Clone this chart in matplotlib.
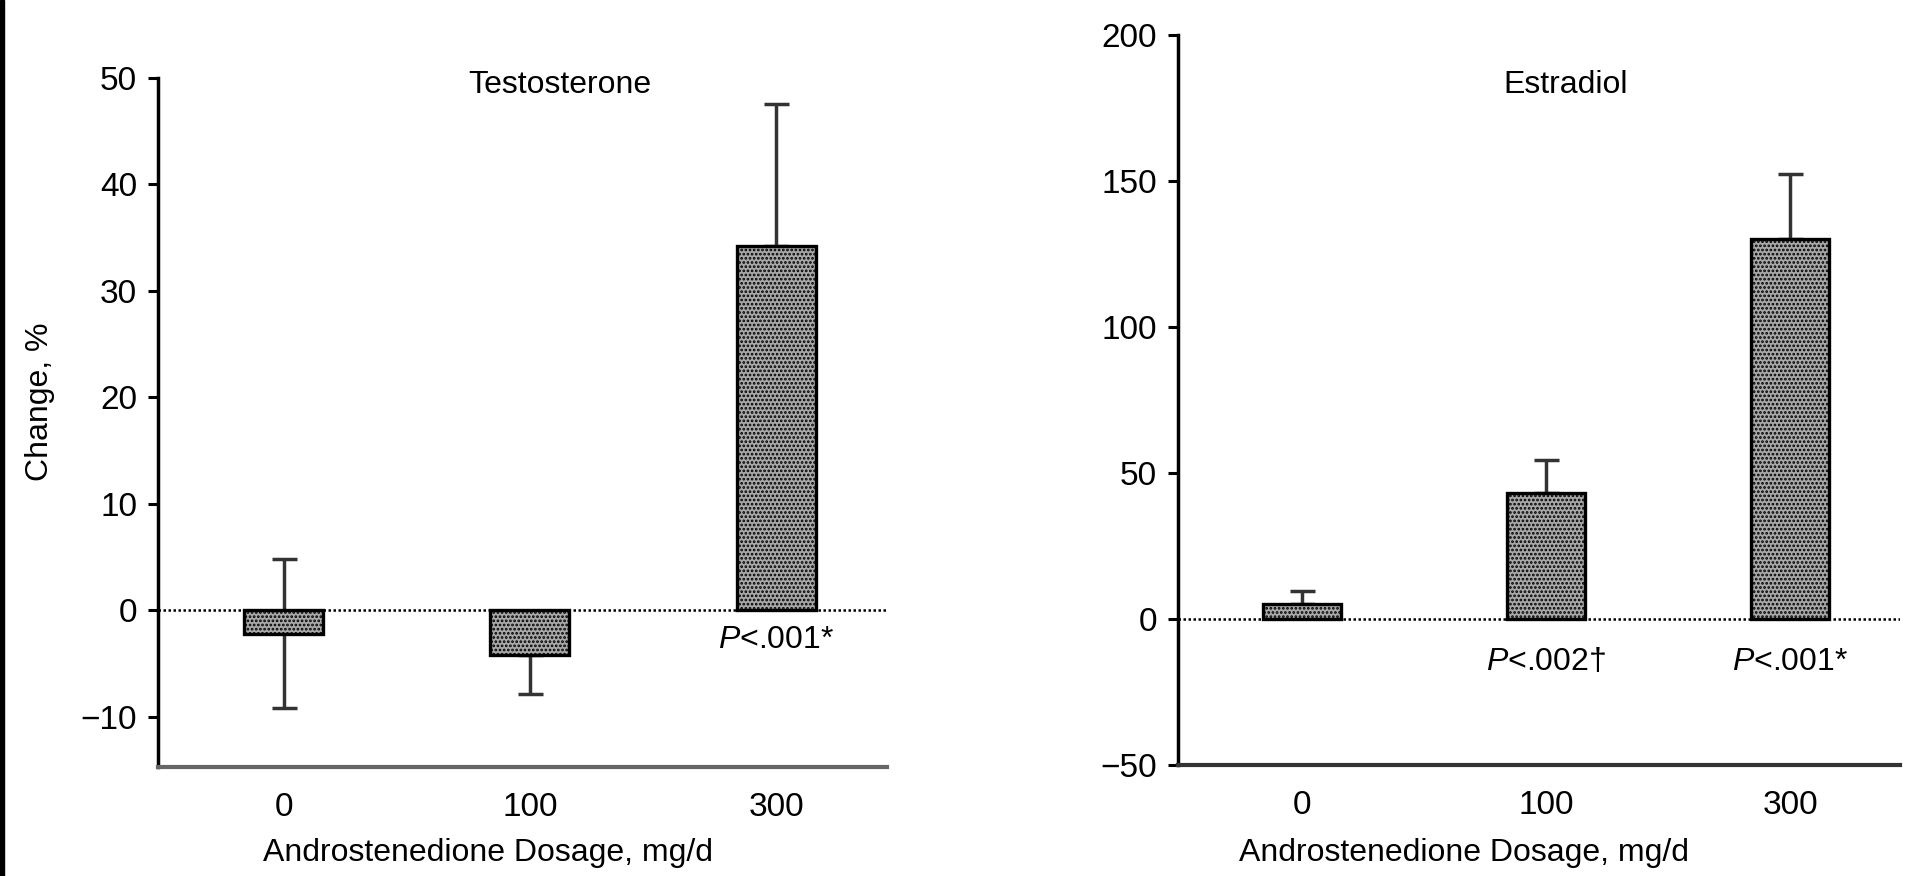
import matplotlib.pyplot as plt
from matplotlib.patches import Rectangle

plt.rcParams['font.family'] = ['Liberation Sans', 'DejaVu Sans']
plt.rcParams['mathtext.fontset'] = 'custom'
plt.rcParams['mathtext.it'] = 'Liberation Sans:italic'
plt.rcParams['mathtext.rm'] = 'Liberation Sans'
plt.rcParams['hatch.linewidth'] = 1.3

# dosage groups (mg/d)
doses = ["0", "100", "300"]

# testosterone: mean percent change and error (down, up)
t_vals = [-2.2, -4.2, 34.2]
t_err_lo = [7.0, 3.6, 0.0]
t_err_hi = [7.0, 0.0, 13.4]
t_pvals = ["", "", r"$\it{P}$<.001*"]

# estradiol: mean percent change and error (down, up)
e_vals = [5.0, 43.0, 130.0]
e_err_lo = [0.0, 0.0, 0.0]
e_err_hi = [4.5, 11.5, 22.5]
e_pvals = ["", r"$\it{P}$<.002†", r"$\it{P}$<.001*"]

fig = plt.figure(figsize=(19.05, 8.76), dpi=100)
fig.add_artist(Rectangle((0, 0), 4 / 1905, 1, transform=fig.transFigure,
                         color="black", zorder=10))

ax1 = fig.add_axes([0.0829, 0.1244, 0.3827, 0.7866])
ax2 = fig.add_axes([0.6184, 0.1267, 0.3790, 0.8333])


def draw_panel(ax, vals, err_lo, err_hi, pvals, title, title_xy, p_y,
               ylim, yticks, bottom_color):
    x = list(range(len(vals)))
    ax.errorbar(x, vals, yerr=[err_lo, err_hi], fmt="none", ecolor="#333333",
                elinewidth=2.5, capsize=9, capthick=2.5, zorder=1)
    ax.bar(x, vals, width=0.32, color="#a8a8a8", edgecolor="black",
           linewidth=2.4, hatch="....", zorder=2)
    ax.axhline(0, color="black", lw=1.8, ls=(0, (1, 1.0)), zorder=3)
    for xi, p in zip(x, pvals):
        if p:
            ax.text(xi, p_y, p, ha="center", va="center", fontsize=23)
    ax.text(title_xy[0], title_xy[1], title, ha="center", va="center",
            fontsize=23)

    ax.set_xlim(-0.51, 2.45)
    ax.set_ylim(*ylim)
    ax.set_yticks(yticks)
    ax.set_yticklabels(["\u2212%d" % -v if v < 0 else str(v) for v in yticks])
    ax.set_xticks(x)
    ax.set_xticklabels(doses)
    for side in ("top", "right"):
        ax.spines[side].set_visible(False)
    ax.spines["left"].set_linewidth(2.5)
    ax.spines["bottom"].set_linewidth(3)
    ax.spines["bottom"].set_color(bottom_color)
    ax.tick_params(axis="y", length=7, width=2.2, pad=8, labelsize=24)
    ax.tick_params(axis="x", length=0, pad=18, labelsize=24)
    ax.set_xlabel("Androstenedione Dosage, mg/d", fontsize=23)


draw_panel(ax1, t_vals, t_err_lo, t_err_hi, t_pvals, "Testosterone",
           (1.12, 49.3), -2.8, (-14.7, 50), [-10, 0, 10, 20, 30, 40, 50],
           "#666666")
ax1.set_ylabel("Change, %", fontsize=23)
ax1.yaxis.set_label_coords(-0.141, 0.53)
ax1.xaxis.set_label_coords(0.453, -0.103)

draw_panel(ax2, e_vals, e_err_lo, e_err_hi, e_pvals, "Estradiol",
           (1.08, 183), -14.7, (-50, 200), [-50, 0, 50, 100, 150, 200],
           "#333333")
ax2.xaxis.set_label_coords(0.396, -0.10)

fig.savefig("out.png", dpi=100)
